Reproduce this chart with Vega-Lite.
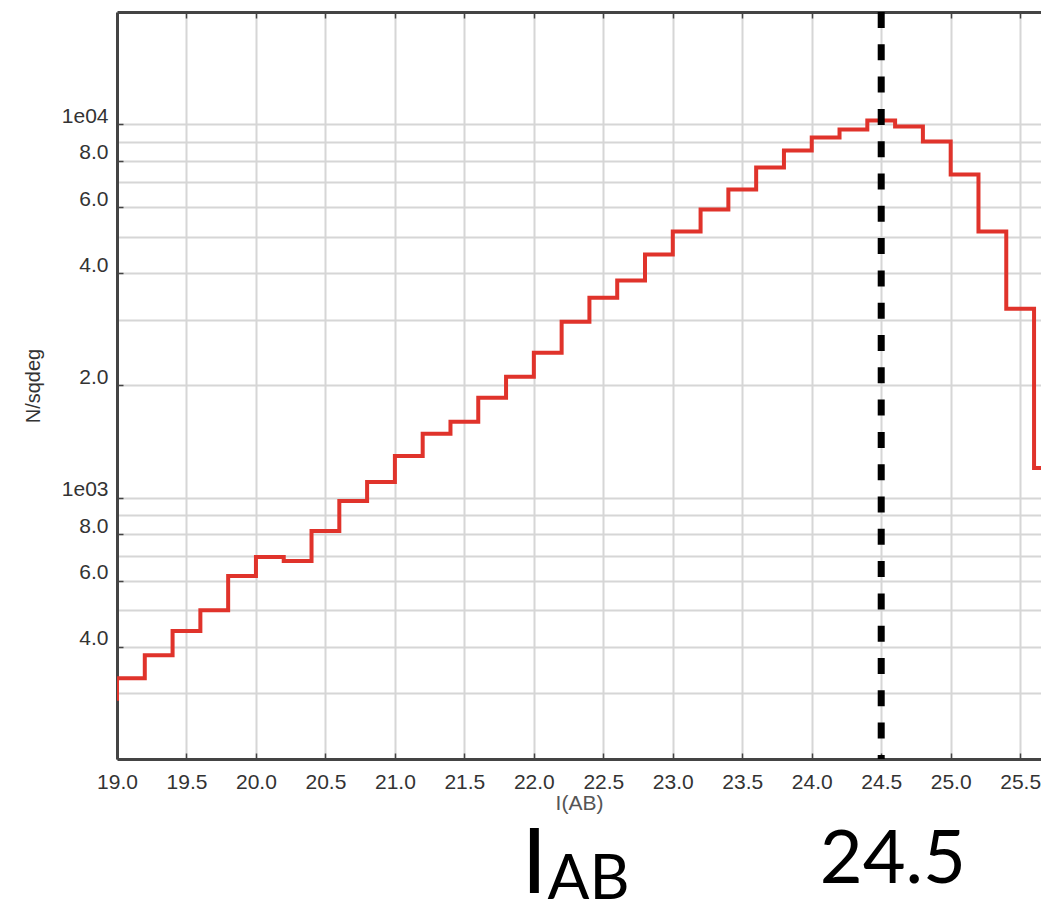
{
  "$schema": "https://vega.github.io/schema/vega-lite/v6.json",
  "width": 924,
  "height": 747,
  "autosize": "none",
  "padding": {"left": 117, "top": 12, "right": 0, "bottom": 144},
  "background": "white",
  "config": {"view": {"stroke": null}, "font": "Liberation Sans"},
  "datasets": {
    "counts": [
      {"mag": 18.8, "n": 290},
      {"mag": 19.0, "n": 329},
      {"mag": 19.2, "n": 379},
      {"mag": 19.4, "n": 440},
      {"mag": 19.6, "n": 500},
      {"mag": 19.8, "n": 618},
      {"mag": 20.0, "n": 695},
      {"mag": 20.2, "n": 678},
      {"mag": 20.4, "n": 816},
      {"mag": 20.6, "n": 982},
      {"mag": 20.8, "n": 1104},
      {"mag": 21.0, "n": 1296},
      {"mag": 21.2, "n": 1485},
      {"mag": 21.4, "n": 1599},
      {"mag": 21.6, "n": 1854},
      {"mag": 21.8, "n": 2110},
      {"mag": 22.0, "n": 2447},
      {"mag": 22.2, "n": 2964},
      {"mag": 22.4, "n": 3436},
      {"mag": 22.6, "n": 3818},
      {"mag": 22.8, "n": 4482},
      {"mag": 23.0, "n": 5166},
      {"mag": 23.2, "n": 5915},
      {"mag": 23.4, "n": 6694},
      {"mag": 23.6, "n": 7667},
      {"mag": 23.8, "n": 8518},
      {"mag": 24.0, "n": 9230},
      {"mag": 24.2, "n": 9696},
      {"mag": 24.4, "n": 10250},
      {"mag": 24.6, "n": 9877},
      {"mag": 24.8, "n": 9005},
      {"mag": 25.0, "n": 7345},
      {"mag": 25.2, "n": 5166},
      {"mag": 25.4, "n": 3211},
      {"mag": 25.6, "n": 1203},
      {"mag": 25.8, "n": 1203}
    ],
    "marker": [{"mag": 24.5}],
    "notes": [
      {"mag": 22.004, "n": 87.5, "text": "I"},
      {"mag": 22.098, "n": 84.5, "text": "AB"},
      {"mag": 24.584, "n": 93.1, "text": "24.5"}
    ]
  },
  "layer": [
    {
      "data": {"name": "counts"},
      "mark": {"type": "line", "interpolate": "step-after", "color": "#e0332b", "strokeWidth": 4, "clip": true},
      "encoding": {
        "x": {
          "field": "mag", "type": "quantitative",
          "scale": {"domain": [19, 25.65], "nice": false, "zero": false},
          "axis": {
            "orient": "bottom",
            "title": "I(AB)",
            "values": [19, 19.5, 20, 20.5, 21, 21.5, 22, 22.5, 23, 23.5, 24, 24.5, 25, 25.5],
            "format": ".1f",
            "labelFontSize": 21, "labelColor": "#333", "labelPadding": 18,
            "labelFlush": false, "labelOverlap": false,
            "grid": true, "gridColor": "#d6d6d6", "gridWidth": 2,
            "domainColor": "#444", "domainWidth": 3,
            "tickColor": "#444", "tickWidth": 1.5, "tickSize": -6,
            "titleFontSize": 21, "titleFontWeight": "normal", "titleColor": "#555", "titlePadding": 0
          }
        },
        "y": {
          "field": "n", "type": "quantitative",
          "scale": {"type": "log", "domain": [200, 20000], "nice": false},
          "axis": {
            "orient": "left",
            "title": "N/sqdeg",
            "titleFontSize": 20, "titleFontWeight": "normal", "titleColor": "#333", "titlePadding": 18,
            "values": [300, 400, 500, 600, 700, 800, 900, 1000, 2000, 3000, 4000, 5000, 6000, 7000, 8000, 9000, 10000],
            "labelExpr": "datum.value == 10000 ? '1e04' : datum.value == 1000 ? '1e03' : indexof([400, 600, 800, 2000, 4000, 6000, 8000], datum.value) >= 0 ? format(datum.value < 1000 ? datum.value / 100 : datum.value / 1000, '.1f') : ''",
            "labelFontSize": 21, "labelColor": "#333", "labelOffset": -8, "labelPadding": 15, "labelOverlap": false,
            "grid": true, "gridColor": "#d6d6d6", "gridWidth": 2,
            "domainColor": "#444", "domainWidth": 3,
            "tickColor": "#444", "tickWidth": 1.5, "tickSize": -6,
            "tickOpacity": {"condition": {"test": "indexof([400, 600, 800, 1000, 2000, 4000, 6000, 8000, 10000], datum.value) >= 0", "value": 1}, "value": 0}
          }
        }
      }
    },
    {
      "data": {"name": "marker"},
      "mark": {"type": "rule", "color": "black", "strokeWidth": 7, "strokeDash": [16, 16.3]},
      "encoding": {
        "x": {
          "field": "mag", "type": "quantitative",
          "axis": {
            "orient": "top", "title": null, "labels": false, "grid": false,
            "values": [19.5, 20, 20.5, 21, 21.5, 22, 22.5, 23, 23.5, 24, 24.5, 25, 25.5],
            "domainColor": "#444", "domainWidth": 3,
            "tickColor": "#444", "tickWidth": 1.5, "tickSize": -6
          }
        }
      }
    },
    {
      "data": {"name": "notes"},
      "transform": [{"filter": "datum.text == 'I'"}],
      "mark": {"type": "text", "font": "Lato", "fontSize": 92, "baseline": "alphabetic", "align": "center", "color": "black", "clip": false},
      "encoding": {
        "x": {"field": "mag", "type": "quantitative", "axis": null},
        "y": {"field": "n", "type": "quantitative", "axis": null},
        "text": {"field": "text"}
      }
    },
    {
      "data": {"name": "notes"},
      "transform": [{"filter": "datum.text == 'AB'"}],
      "mark": {"type": "text", "font": "Lato", "fontSize": 62, "baseline": "alphabetic", "align": "left", "color": "black", "clip": false},
      "encoding": {
        "x": {"field": "mag", "type": "quantitative", "axis": null},
        "y": {"field": "n", "type": "quantitative", "axis": null},
        "text": {"field": "text"}
      }
    },
    {
      "data": {"name": "notes"},
      "transform": [{"filter": "datum.text == '24.5'"}],
      "mark": {"type": "text", "font": "Lato", "fontSize": 74, "baseline": "alphabetic", "align": "center", "color": "black", "clip": false},
      "encoding": {
        "x": {"field": "mag", "type": "quantitative", "axis": null},
        "y": {"field": "n", "type": "quantitative", "axis": null},
        "text": {"field": "text"}
      }
    }
  ],
  "resolve": {"axis": {"x": "independent", "y": "independent"}}
}
